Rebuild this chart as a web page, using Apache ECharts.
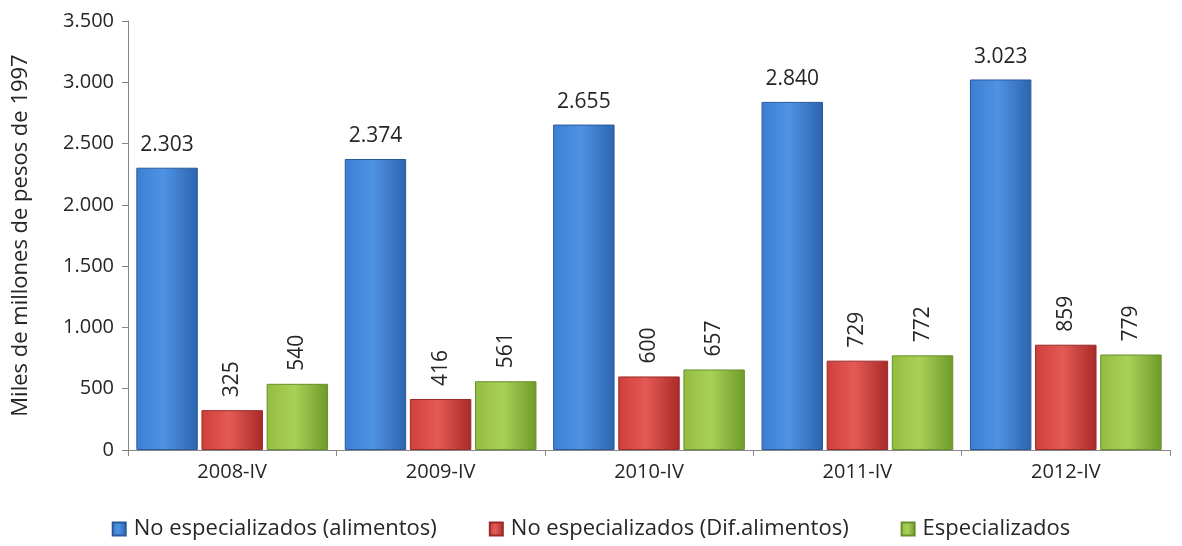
<!DOCTYPE html>
<html>
<head>
<meta charset="utf-8">
<script src="https://cdn.jsdelivr.net/npm/echarts@6/dist/echarts.min.js"></script>
<style>
  html, body { margin: 0; padding: 0; background: #fff; }
  #chart { width: 1182px; height: 546px; }
</style>
</head>
<body>
<div id="chart"></div>
<script>
const categories = ['2008-IV', '2009-IV', '2010-IV', '2011-IV', '2012-IV']
const seriesNames = ['No especializados (alimentos)', 'No especializados (Dif.alimentos)', 'Especializados']
const noEspAlimentos = [2303, 2374, 2655, 2840, 3023]
const noEspDifAlimentos = [325, 416, 600, 729, 859]
const especializados = [540, 561, 657, 772, 779]

const FONT = 'Open Sans'
const TXT = '#262626'

// miles con punto
const fmt = v => String(v).replace(/\B(?=(\d{3})+(?!\d))/g, '.')

const grad = (light, mid, dark) => new echarts.graphic.LinearGradient(0, 0, 1, 0, [
  { offset: 0, color: mid },
  { offset: 0.45, color: light },
  { offset: 1, color: dark }
])

const makeSeries = (name, data, colors, border, rotated) => ({
  name: name,
  type: 'bar',
  data: data,
  barGap: '6%',
  barCategoryGap: '8%',
  itemStyle: {
    color: grad(colors[0], colors[1], colors[2]),
    borderColor: border,
    borderWidth: 1
  },
  label: rotated ? {
    show: true,
    position: 'top',
    rotate: 90,
    align: 'left',
    verticalAlign: 'middle',
    distance: 13,
    formatter: p => fmt(p.value),
    fontFamily: FONT,
    fontSize: 21,
    color: TXT
  } : {
    show: true,
    position: 'top',
    distance: 12,
    formatter: p => fmt(p.value),
    fontFamily: FONT,
    fontSize: 21,
    color: TXT
  }
})

const chart = echarts.init(document.getElementById('chart'))
chart.setOption({
  animation: false,
  grid: { left: 128, right: 12, top: 21, bottom: 96 },
  legend: {
    data: seriesNames,
    bottom: 1,
    left: 'center',
    icon: 'rect',
    itemWidth: 13,
    itemHeight: 13,
    itemGap: 52,
    textStyle: { fontFamily: FONT, fontSize: 22, color: TXT, padding: [0, 0, 0, 3] }
  },
  xAxis: {
    type: 'category',
    data: categories,
    axisLine: { lineStyle: { color: '#868686' } },
    axisTick: { show: true, length: 6, lineStyle: { color: '#868686' } },
    axisLabel: { fontFamily: FONT, fontSize: 20, color: TXT, margin: 12 }
  },
  yAxis: {
    type: 'value',
    min: 0,
    max: 3500,
    interval: 500,
    name: 'Miles de millones de pesos de 1997',
    nameLocation: 'middle',
    nameGap: 96,
    nameTextStyle: { fontFamily: FONT, fontSize: 22, color: TXT },
    axisLine: { show: true, lineStyle: { color: '#868686' } },
    axisTick: { show: true, length: 6, lineStyle: { color: '#868686' } },
    splitLine: { show: false },
    axisLabel: { fontFamily: FONT, fontSize: 20, color: TXT, margin: 14, formatter: v => fmt(v) }
  },
  series: [
    makeSeries(seriesNames[0], noEspAlimentos, ['#4f93e4', '#3c7fd2', '#2c63ad'], '#2a5a9c', false),
    makeSeries(seriesNames[1], noEspDifAlimentos, ['#e45a55', '#cf3f3b', '#a82a28'], '#9a2a28', true),
    makeSeries(seriesNames[2], especializados, ['#a9d158', '#93bd3f', '#6f9a2a'], '#688f2a', true)
  ]
})
</script>
</body>
</html>
